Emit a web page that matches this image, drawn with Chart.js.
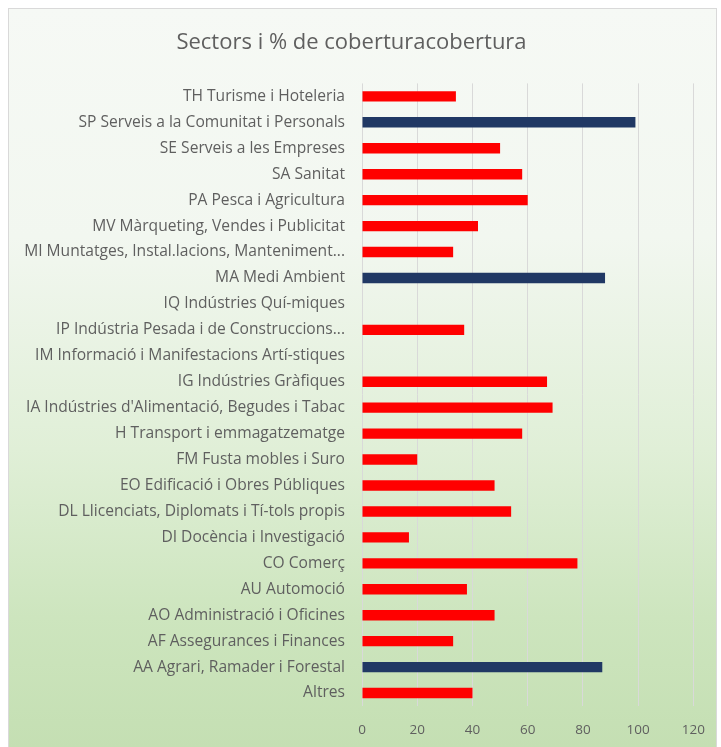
<!DOCTYPE html>
<html>
<head>
<meta charset="utf-8">
<script src="https://cdn.jsdelivr.net/npm/chart.js@4.4.0/dist/chart.umd.min.js"></script>
<style>
    html, body { margin: 0; padding: 0; background: #ffffff; }
    #wrap { position: relative; width: 721px; height: 747px; overflow: hidden; }
    .card {
        position: absolute; left: 8px; top: 8px; width: 707px; height: 760px;
        border: 1px solid #d9d9d9;
        background: linear-gradient(to bottom, #f6f9f5 0%, #f2f7f0 30%, #e0efd7 58%, #cde5be 80%, #c3deb1 100%);
    }
    #chart { position: absolute; left: 0; top: 0; }
</style>
</head>
<body>
<div id="wrap">
    <div class="card"></div>
    <canvas id="chart" width="721" height="747"></canvas>
</div>
<script>
// sectors, top to bottom as shown
const sectors = [
    'TH Turisme i Hoteleria',
    'SP Serveis a la Comunitat i Personals',
    'SE Serveis a les Empreses',
    'SA Sanitat',
    'PA Pesca i Agricultura',
    'MV Màrqueting, Vendes i Publicitat',
    'MI Muntatges, Instal.lacions, Manteniment...',
    'MA Medi Ambient',
    'IQ Indústries Quí-miques',
    'IP Indústria Pesada i de Construccions...',
    'IM Informació i Manifestacions Artí-stiques',
    'IG Indústries Gràfiques',
    "IA Indústries d'Alimentació, Begudes i Tabac",
    'H Transport i emmagatzematge',
    'FM Fusta mobles i Suro',
    'EO Edificació i Obres Públiques',
    'DL Llicenciats, Diplomats i Tí-tols propis',
    'DI Docència i Investigació',
    'CO Comerç',
    'AU Automoció',
    'AO Administració i Oficines',
    'AF Assegurances i Finances',
    'AA Agrari, Ramader i Forestal',
    'Altres'
];

const coverage = [34, 99, 50, 58, 60, 42, 33, 88, null, 37, null, 67, 69, 58, 20, 48, 54, 17, 78, 38, 48, 33, 87, 40];

// sectors drawn in the dark colour
const darkSectors = ['SP', 'MA', 'AA'];

const xTicks = [0, 20, 40, 60, 80, 100, 120];

const RED = '#ff0000';
const NAVY = '#203864';
const TEXT = '#5f5f5f';
const FONT = "'Open Sans', sans-serif";

const barColors = sectors.map(s => darkSectors.includes(s.split(' ')[0]) ? NAVY : RED);

const ctx = document.getElementById('chart').getContext('2d');
new Chart(ctx, {
    type: 'bar',
    data: {
        labels: sectors,
        datasets: [{
            label: '% cobertura',
            data: coverage,
            backgroundColor: barColors,
            borderWidth: 0,
            categoryPercentage: 1,
            barPercentage: 0.4
        }]
    },
    options: {
        indexAxis: 'y',
        responsive: false,
        animation: false,
        layout: { padding: { left: 8, right: 26, top: 0, bottom: 9 } },
        plugins: {
            legend: { display: false },
            tooltip: { enabled: false },
            title: {
                display: true,
                text: 'Sectors i % de coberturacobertura',
                color: TEXT,
                font: { family: FONT, size: 22, weight: 'normal' },
                padding: { top: 30, bottom: 27 }
            }
        },
        scales: {
            x: {
                min: 0,
                max: 120,
                afterBuildTicks: (scale) => { scale.ticks = xTicks.map(v => ({ value: v })); },
                grid: { color: '#d9d9d9', drawTicks: false, lineWidth: 1 },
                border: { display: false },
                ticks: {
                    color: TEXT,
                    padding: 16,
                    font: { family: FONT, size: 13.5 }
                },
                afterFit: (scale) => { scale.height = 32; }
            },
            y: {
                grid: { display: false, drawTicks: false },
                border: { display: false },
                ticks: {
                    color: TEXT,
                    padding: 17,
                    autoSkip: false,
                    font: { family: FONT, size: 15.6 }
                },
                afterFit: (scale) => { scale.width = 354; }
            }
        }
    }
});
</script>
</body>
</html>
